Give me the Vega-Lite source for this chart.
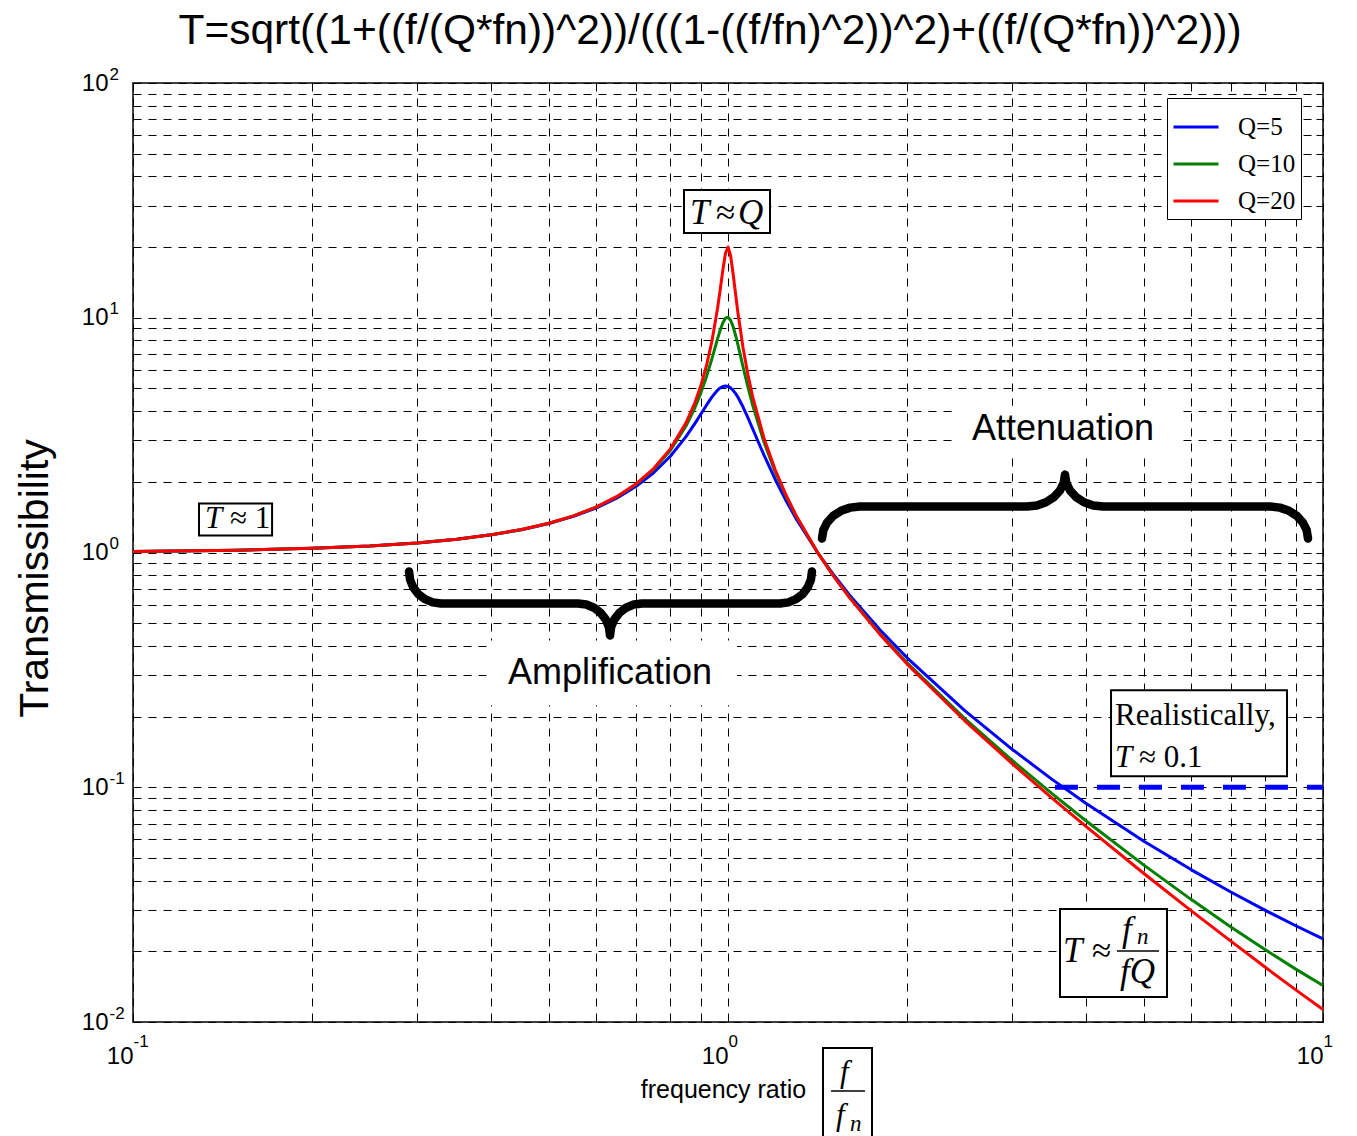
{
  "$schema": "https://vega.github.io/schema/vega-lite/v6.json",
  "width": 1190,
  "height": 939,
  "autosize": "none",
  "padding": {"left": 133, "top": 83, "right": 34, "bottom": 114},
  "background": "white",
  "title": {
    "text": "T=sqrt((1+((f/(Q*fn))^2))/(((1-((f/fn)^2))^2)+((f/(Q*fn))^2)))",
    "fontSize": 42.5, "font": "Liberation Sans", "fontWeight": "normal", "color": "black",
    "anchor": "middle", "frame": "group", "dx": -18, "offset": 13
  },
  "config": {
    "view": {"stroke": "black", "strokeWidth": 1.5},
    "axis": {
      "gridColor": "black", "gridDash": [8, 7], "gridWidth": 1, "gridOpacity": 1,
      "labelFont": "Liberation Sans", "labelColor": "black",
      "titleFont": "Liberation Sans", "titleColor": "black", "titleFontWeight": "normal",
      "domain": false, "ticks": false, "labelOverlap": false, "labelFlush": false, "labelBound": false
    }
  },
  "resolve": {"axis": {"x": "independent", "y": "independent"}},
  "layer": [
    {
      "data": {"values": [
        {"ratio": 0.3935, "ratio2": 1.0354, "T": 0.4222, "T2": 0.2234},
        {"ratio": 2.426, "ratio2": 5.684, "T": 4.222, "T2": 2.587}
      ]},
      "mark": {"type": "rect", "fill": "white", "strokeWidth": 0},
      "encoding": {
        "x": {"field": "ratio", "type": "quantitative", "scale": {"type": "log", "domain": [0.1, 10], "nice": false},
          "axis": {"orient": "top", "values": [0.1,0.2,0.3,0.4,0.5,0.6,0.7,0.8,0.9,1,2,3,4,5,6,7,8,9,10], "grid": false, "labels": false, "ticks": true, "tickSize": -7, "tickColor": "black", "title": null}},
        "x2": {"field": "ratio2"},
        "y": {"field": "T", "type": "quantitative", "scale": {"type": "log", "domain": [0.01, 100], "nice": false},
          "axis": {"orient": "right", "values": [0.01,0.02,0.03,0.04,0.05,0.06,0.07,0.08,0.09,0.1,0.2,0.3,0.4,0.5,0.6,0.7,0.8,0.9,1,2,3,4,5,6,7,8,9,10,20,30,40,50,60,70,80,90,100], "grid": false, "labels": false, "ticks": true, "tickSize": -7, "tickColor": "black", "title": null}},
        "y2": {"field": "T2"}
      }
    },
    {
      "data": {"values": [
        {"brace": "amp", "seq": 1, "ratio": 0.2910, "T": 0.8301},
        {"brace": "amp", "seq": 2, "ratio": 0.2922, "T": 0.7654},
        {"brace": "amp", "seq": 3, "ratio": 0.2958, "T": 0.7097},
        {"brace": "amp", "seq": 4, "ratio": 0.3017, "T": 0.6651},
        {"brace": "amp", "seq": 5, "ratio": 0.3095, "T": 0.6328},
        {"brace": "amp", "seq": 6, "ratio": 0.3189, "T": 0.6132},
        {"brace": "amp", "seq": 7, "ratio": 0.3293, "T": 0.6067},
        {"brace": "amp", "seq": 8, "ratio": 0.5597, "T": 0.6067},
        {"brace": "amp", "seq": 9, "ratio": 0.5779, "T": 0.6003},
        {"brace": "amp", "seq": 10, "ratio": 0.5954, "T": 0.5817},
        {"brace": "amp", "seq": 11, "ratio": 0.6109, "T": 0.5535},
        {"brace": "amp", "seq": 12, "ratio": 0.6230, "T": 0.5187},
        {"brace": "amp", "seq": 13, "ratio": 0.6308, "T": 0.4809},
        {"brace": "amp", "seq": 14, "ratio": 0.6335, "T": 0.4434},
        {"brace": "amp", "seq": 15, "ratio": 0.6361, "T": 0.4809},
        {"brace": "amp", "seq": 16, "ratio": 0.6441, "T": 0.5187},
        {"brace": "amp", "seq": 17, "ratio": 0.6569, "T": 0.5535},
        {"brace": "amp", "seq": 18, "ratio": 0.6739, "T": 0.5817},
        {"brace": "amp", "seq": 19, "ratio": 0.6944, "T": 0.6003},
        {"brace": "amp", "seq": 20, "ratio": 0.7170, "T": 0.6067},
        {"brace": "amp", "seq": 21, "ratio": 1.2230, "T": 0.6067},
        {"brace": "amp", "seq": 22, "ratio": 1.2627, "T": 0.6132},
        {"brace": "amp", "seq": 23, "ratio": 1.3010, "T": 0.6328},
        {"brace": "amp", "seq": 24, "ratio": 1.3348, "T": 0.6651},
        {"brace": "amp", "seq": 25, "ratio": 1.3613, "T": 0.7097},
        {"brace": "amp", "seq": 26, "ratio": 1.3783, "T": 0.7654},
        {"brace": "amp", "seq": 27, "ratio": 1.3840, "T": 0.8301},
        {"brace": "att", "seq": 1, "ratio": 1.4387, "T": 1.1470},
        {"brace": "att", "seq": 2, "ratio": 1.4460, "T": 1.2440},
        {"brace": "att", "seq": 3, "ratio": 1.4674, "T": 1.3417},
        {"brace": "att", "seq": 4, "ratio": 1.5021, "T": 1.4317},
        {"brace": "att", "seq": 5, "ratio": 1.5486, "T": 1.5048},
        {"brace": "att", "seq": 6, "ratio": 1.6045, "T": 1.5528},
        {"brace": "att", "seq": 7, "ratio": 1.6666, "T": 1.5694},
        {"brace": "att", "seq": 8, "ratio": 3.1807, "T": 1.5694},
        {"brace": "att", "seq": 9, "ratio": 3.3040, "T": 1.5863},
        {"brace": "att", "seq": 10, "ratio": 3.4234, "T": 1.6366},
        {"brace": "att", "seq": 11, "ratio": 3.5292, "T": 1.7204},
        {"brace": "att", "seq": 12, "ratio": 3.6127, "T": 1.8358},
        {"brace": "att", "seq": 13, "ratio": 3.6661, "T": 1.9801},
        {"brace": "att", "seq": 14, "ratio": 3.6846, "T": 2.1474},
        {"brace": "att", "seq": 15, "ratio": 3.7032, "T": 1.9801},
        {"brace": "att", "seq": 16, "ratio": 3.7579, "T": 1.8358},
        {"brace": "att", "seq": 17, "ratio": 3.8467, "T": 1.7204},
        {"brace": "att", "seq": 18, "ratio": 3.9657, "T": 1.6366},
        {"brace": "att", "seq": 19, "ratio": 4.1089, "T": 1.5863},
        {"brace": "att", "seq": 20, "ratio": 4.2683, "T": 1.5694},
        {"brace": "att", "seq": 21, "ratio": 8.1461, "T": 1.5694},
        {"brace": "att", "seq": 22, "ratio": 8.4616, "T": 1.5528},
        {"brace": "att", "seq": 23, "ratio": 8.7671, "T": 1.5048},
        {"brace": "att", "seq": 24, "ratio": 9.0380, "T": 1.4317},
        {"brace": "att", "seq": 25, "ratio": 9.2520, "T": 1.3417},
        {"brace": "att", "seq": 26, "ratio": 9.3888, "T": 1.2440},
        {"brace": "att", "seq": 27, "ratio": 9.4360, "T": 1.1470}
      ]},
      "mark": {"type": "line", "color": "black", "strokeWidth": 8.5, "strokeCap": "round", "strokeJoin": "round"},
      "encoding": {
        "x": {"field": "ratio", "type": "quantitative", "scale": {"type": "log", "domain": [0.1, 10], "nice": false},
          "axis": {"orient": "bottom", "values": [0.1,0.2,0.3,0.4,0.5,0.6,0.7,0.8,0.9,1,2,3,4,5,6,7,8,9,10], "grid": false, "labels": false, "ticks": true, "tickSize": -7, "tickColor": "black", "title": null}},
        "y": {"field": "T", "type": "quantitative", "scale": {"type": "log", "domain": [0.01, 100], "nice": false},
          "axis": {"orient": "left", "values": [0.01,0.02,0.03,0.04,0.05,0.06,0.07,0.08,0.09,0.1,0.2,0.3,0.4,0.5,0.6,0.7,0.8,0.9,1,2,3,4,5,6,7,8,9,10,20,30,40,50,60,70,80,90,100], "grid": false, "labels": false, "ticks": true, "tickSize": -7, "tickColor": "black", "title": null}},
        "detail": {"field": "brace"},
        "order": {"field": "seq", "type": "quantitative"}
      }
    },
    {
      "data": {"values": [
        {"Q":"Q=5","ratio":0.1,"T":1.0101},{"Q":"Q=5","ratio":0.15,"T":1.0230},{"Q":"Q=5","ratio":0.2,"T":1.0416},{"Q":"Q=5","ratio":0.25,"T":1.0665},{"Q":"Q=5","ratio":0.3,"T":1.0985},{"Q":"Q=5","ratio":0.35,"T":1.1388},{"Q":"Q=5","ratio":0.4,"T":1.1889},{"Q":"Q=5","ratio":0.45,"T":1.2510},{"Q":"Q=5","ratio":0.5,"T":1.3282},{"Q":"Q=5","ratio":0.55,"T":1.4247},{"Q":"Q=5","ratio":0.6,"T":1.5468},{"Q":"Q=5","ratio":0.65,"T":1.7035},{"Q":"Q=5","ratio":0.7,"T":1.9093},{"Q":"Q=5","ratio":0.75,"T":2.1863},{"Q":"Q=5","ratio":0.8,"T":2.5707},{"Q":"Q=5","ratio":0.85,"T":3.1169},{"Q":"Q=5","ratio":0.88,"T":3.5486},{"Q":"Q=5","ratio":0.9,"T":3.8822},{"Q":"Q=5","ratio":0.92,"T":4.2422},{"Q":"Q=5","ratio":0.94,"T":4.6017},{"Q":"Q=5","ratio":0.96,"T":4.9099},{"Q":"Q=5","ratio":0.97,"T":5.0228},{"Q":"Q=5","ratio":0.98,"T":5.0962},{"Q":"Q=5","ratio":0.99,"T":5.1228},{"Q":"Q=5","ratio":1.0,"T":5.0990},{"Q":"Q=5","ratio":1.01,"T":5.0257},{"Q":"Q=5","ratio":1.02,"T":4.9076},{"Q":"Q=5","ratio":1.03,"T":4.7530},{"Q":"Q=5","ratio":1.04,"T":4.5714},{"Q":"Q=5","ratio":1.06,"T":4.1656},{"Q":"Q=5","ratio":1.08,"T":3.7521},{"Q":"Q=5","ratio":1.1,"T":3.3666},{"Q":"Q=5","ratio":1.15,"T":2.5904},{"Q":"Q=5","ratio":1.2,"T":2.0519},{"Q":"Q=5","ratio":1.25,"T":1.6745},{"Q":"Q=5","ratio":1.3,"T":1.4013},{"Q":"Q=5","ratio":1.4142,"T":1.0},{"Q":"Q=5","ratio":1.5,"T":0.8122},{"Q":"Q=5","ratio":1.6,"T":0.6593},{"Q":"Q=5","ratio":1.8,"T":0.4685},{"Q":"Q=5","ratio":2,"T":0.3559},{"Q":"Q=5","ratio":2.5,"T":0.2120},{"Q":"Q=5","ratio":3,"T":0.1454},{"Q":"Q=5","ratio":3.5,"T":0.1083},{"Q":"Q=5","ratio":4,"T":0.0853},{"Q":"Q=5","ratio":5,"T":0.0589},{"Q":"Q=5","ratio":6,"T":0.0446},{"Q":"Q=5","ratio":7,"T":0.0358},{"Q":"Q=5","ratio":8,"T":0.0299},{"Q":"Q=5","ratio":9,"T":0.0257},{"Q":"Q=5","ratio":10,"T":0.0226},
        {"Q":"Q=10","ratio":0.1,"T":1.0101},{"Q":"Q=10","ratio":0.15,"T":1.0230},{"Q":"Q=10","ratio":0.2,"T":1.0417},{"Q":"Q=10","ratio":0.25,"T":1.0666},{"Q":"Q=10","ratio":0.3,"T":1.0988},{"Q":"Q=10","ratio":0.35,"T":1.1394},{"Q":"Q=10","ratio":0.4,"T":1.1901},{"Q":"Q=10","ratio":0.45,"T":1.2532},{"Q":"Q=10","ratio":0.5,"T":1.3320},{"Q":"Q=10","ratio":0.55,"T":1.4314},{"Q":"Q=10","ratio":0.6,"T":1.5585},{"Q":"Q=10","ratio":0.65,"T":1.7244},{"Q":"Q=10","ratio":0.7,"T":1.9473},{"Q":"Q=10","ratio":0.75,"T":2.2592},{"Q":"Q=10","ratio":0.8,"T":2.7203},{"Q":"Q=10","ratio":0.85,"T":3.4580},{"Q":"Q=10","ratio":0.88,"T":4.1456},{"Q":"Q=10","ratio":0.9,"T":4.7757},{"Q":"Q=10","ratio":0.92,"T":5.6088},{"Q":"Q=10","ratio":0.94,"T":6.7132},{"Q":"Q=10","ratio":0.96,"T":8.1051},{"Q":"Q=10","ratio":0.97,"T":8.8452},{"Q":"Q=10","ratio":0.98,"T":9.5062},{"Q":"Q=10","ratio":0.99,"T":9.9513},{"Q":"Q=10","ratio":1.0,"T":10.0499},{"Q":"Q=10","ratio":1.01,"T":9.7600},{"Q":"Q=10","ratio":1.02,"T":9.1623},{"Q":"Q=10","ratio":1.03,"T":8.4014},{"Q":"Q=10","ratio":1.04,"T":7.6056},{"Q":"Q=10","ratio":1.06,"T":6.1759},{"Q":"Q=10","ratio":1.08,"T":5.0703},{"Q":"Q=10","ratio":1.1,"T":4.2437},{"Q":"Q=10","ratio":1.15,"T":2.9398},{"Q":"Q=10","ratio":1.2,"T":2.2084},{"Q":"Q=10","ratio":1.25,"T":1.7489},{"Q":"Q=10","ratio":1.3,"T":1.4362},{"Q":"Q=10","ratio":1.4142,"T":1.0},{"Q":"Q=10","ratio":1.5,"T":0.8032},{"Q":"Q=10","ratio":1.6,"T":0.6458},{"Q":"Q=10","ratio":1.8,"T":0.4521},{"Q":"Q=10","ratio":2,"T":0.3392},{"Q":"Q=10","ratio":2.5,"T":0.1961},{"Q":"Q=10","ratio":3,"T":0.1304},{"Q":"Q=10","ratio":3.5,"T":0.0941},{"Q":"Q=10","ratio":4,"T":0.0718},{"Q":"Q=10","ratio":5,"T":0.0466},{"Q":"Q=10","ratio":6,"T":0.0333},{"Q":"Q=10","ratio":7,"T":0.0254},{"Q":"Q=10","ratio":8,"T":0.0203},{"Q":"Q=10","ratio":9,"T":0.0168},{"Q":"Q=10","ratio":10,"T":0.0143},
        {"Q":"Q=20","ratio":0.1,"T":1.0101},{"Q":"Q=20","ratio":0.15,"T":1.0230},{"Q":"Q=20","ratio":0.2,"T":1.0417},{"Q":"Q=20","ratio":0.25,"T":1.0667},{"Q":"Q=20","ratio":0.3,"T":1.0989},{"Q":"Q=20","ratio":0.35,"T":1.1396},{"Q":"Q=20","ratio":0.4,"T":1.1904},{"Q":"Q=20","ratio":0.45,"T":1.2537},{"Q":"Q=20","ratio":0.5,"T":1.3330},{"Q":"Q=20","ratio":0.55,"T":1.4331},{"Q":"Q=20","ratio":0.6,"T":1.5615},{"Q":"Q=20","ratio":0.65,"T":1.7298},{"Q":"Q=20","ratio":0.7,"T":1.9574},{"Q":"Q=20","ratio":0.75,"T":2.2789},{"Q":"Q=20","ratio":0.8,"T":2.7630},{"Q":"Q=20","ratio":0.85,"T":3.5653},{"Q":"Q=20","ratio":0.88,"T":4.3549},{"Q":"Q=20","ratio":0.9,"T":5.1267},{"Q":"Q=20","ratio":0.92,"T":6.2433},{"Q":"Q=20","ratio":0.94,"T":7.9749},{"Q":"Q=20","ratio":0.96,"T":10.8907},{"Q":"Q=20","ratio":0.97,"T":13.0952},{"Q":"Q=20","ratio":0.98,"T":15.8917},{"Q":"Q=20","ratio":0.99,"T":18.7670},{"Q":"Q=20","ratio":1.0,"T":20.0250},{"Q":"Q=20","ratio":1.01,"T":18.4216},{"Q":"Q=20","ratio":1.02,"T":15.3899},{"Q":"Q=20","ratio":1.03,"T":12.5548},{"Q":"Q=20","ratio":1.04,"T":10.3488},{"Q":"Q=20","ratio":1.06,"T":7.4463},{"Q":"Q=20","ratio":1.08,"T":5.7245},{"Q":"Q=20","ratio":1.1,"T":4.6135},{"Q":"Q=20","ratio":1.15,"T":3.0576},{"Q":"Q=20","ratio":1.2,"T":2.2559},{"Q":"Q=20","ratio":1.25,"T":1.7703},{"Q":"Q=20","ratio":1.3,"T":1.4459},{"Q":"Q=20","ratio":1.4142,"T":1.0},{"Q":"Q=20","ratio":1.5,"T":0.8008},{"Q":"Q=20","ratio":1.6,"T":0.6422},{"Q":"Q=20","ratio":1.8,"T":0.4479},{"Q":"Q=20","ratio":2,"T":0.3348},{"Q":"Q=20","ratio":2.5,"T":0.1919},{"Q":"Q=20","ratio":3,"T":0.1264},{"Q":"Q=20","ratio":3.5,"T":0.0902},{"Q":"Q=20","ratio":4,"T":0.0680},{"Q":"Q=20","ratio":5,"T":0.0429},{"Q":"Q=20","ratio":6,"T":0.0298},{"Q":"Q=20","ratio":7,"T":0.0221},{"Q":"Q=20","ratio":8,"T":0.0171},{"Q":"Q=20","ratio":9,"T":0.0137},{"Q":"Q=20","ratio":10,"T":0.0113}
      ]},
      "mark": {"type": "line", "strokeWidth": 3, "strokeJoin": "round"},
      "encoding": {
        "x": {"field": "ratio", "type": "quantitative", "scale": {"type": "log", "domain": [0.1, 10], "nice": false},
          "axis": {"orient": "bottom", "values": [0.1,0.2,0.3,0.4,0.5,0.6,0.7,0.8,0.9,1,2,3,4,5,6,7,8,9,10], "grid": true,
            "labelExpr": "abs(log(datum.value)/LN10 - round(log(datum.value)/LN10)) < 0.001 ? '10' : ''",
            "labelFontSize": 24, "labelAlign": "right", "labelDx": 9, "labelBaseline": "top", "labelPadding": 22,
            "title": "frequency ratio", "titleFontSize": 25, "titleX": 590, "titleY": 75, "titleAlign": "center", "titleBaseline": "alphabetic"}},
        "y": {"field": "T", "type": "quantitative", "scale": {"type": "log", "domain": [0.01, 100], "nice": false},
          "axis": {"orient": "left", "values": [0.01,0.02,0.03,0.04,0.05,0.06,0.07,0.08,0.09,0.1,0.2,0.3,0.4,0.5,0.6,0.7,0.8,0.9,1,2,3,4,5,6,7,8,9,10,20,30,40,50,60,70,80,90,100], "grid": true,
            "labelExpr": "abs(log(datum.value)/LN10 - round(log(datum.value)/LN10)) < 0.001 ? '10' : ''",
            "labelFontSize": 24, "labelAlign": "right", "labelBaseline": "middle", "labelPadding": 25,
            "title": "Transmissibility", "titleFontSize": 41, "titleX": -86, "titleY": 495, "titleAngle": -90, "titleAlign": "center", "titleBaseline": "alphabetic"}},
        "color": {"field": "Q", "type": "nominal",
          "scale": {"domain": ["Q=5", "Q=10", "Q=20"], "range": ["#0000ff", "#008000", "#ff0000"]},
          "legend": {"title": null, "orient": "none", "legendX": 1034, "legendY": 15, "fillColor": "white", "strokeColor": "black",
            "padding": 5, "symbolType": "stroke", "symbolSize": 2025, "symbolStrokeWidth": 3,
            "labelFont": "Liberation Serif", "labelFontSize": 25, "labelColor": "black", "labelOffset": 18, "rowPadding": -18}}
      }
    },
    {
      "data": {"values": [{"ratio": 3.544, "T": 0.1}, {"ratio": 10, "T": 0.1}]},
      "mark": {"type": "line", "color": "#0000ff", "strokeWidth": 5, "strokeDash": [23, 19]},
      "encoding": {
        "x": {"field": "ratio", "type": "quantitative", "scale": {"type": "log", "domain": [0.1, 10], "nice": false},
          "axis": {"orient": "bottom", "values": [0.1, 1, 10], "grid": false,
            "labelExpr": "'' + round(log(datum.value)/LN10)",
            "labelFontSize": 17, "labelAlign": "left", "labelDx": 9, "labelBaseline": "top", "labelPadding": 11, "title": null}},
        "y": {"field": "T", "type": "quantitative", "scale": {"type": "log", "domain": [0.01, 100], "nice": false},
          "axis": {"orient": "left", "values": [0.01, 0.1, 1, 10, 100], "grid": false,
            "labelExpr": "'' + round(log(datum.value)/LN10)",
            "labelFontSize": 17, "labelAlign": "left", "labelBaseline": "bottom", "labelPadding": 24, "labelDy": -4, "title": null}}
      }
    },
    {
      "data": {"values": [
        {"ratio": 0.1291, "ratio2": 0.1713, "T": 1.616, "T2": 1.181},
        {"ratio": 0.8434, "ratio2": 1.1765, "T": 35.05, "T2": 22.99},
        {"ratio": 4.403, "ratio2": 8.700, "T": 0.2587, "T2": 0.1114},
        {"ratio": 3.614, "ratio2": 5.468, "T": 0.03027, "T2": 0.01278},
        {"ratio": 1.4443, "ratio2": 1.7459, "T": 0.0077505, "T2": 0.0031459}
      ]},
      "mark": {"type": "rect", "fill": "white", "stroke": "black", "strokeWidth": 2},
      "encoding": {
        "x": {"field": "ratio", "type": "quantitative", "scale": {"type": "log", "domain": [0.1, 10], "nice": false}, "axis": null},
        "x2": {"field": "ratio2"},
        "y": {"field": "T", "type": "quantitative", "scale": {"type": "log", "domain": [0.01, 100], "nice": false}, "axis": null},
        "y2": {"field": "T2"}
      }
    },
    {
      "data": {"values": [
        {"ratio": 4.5062, "ratio2": 5.3014, "T": 0.020048},
        {"ratio": 1.4899, "ratio2": 1.6992, "T": 0.0050853}
      ]},
      "mark": {"type": "rule", "color": "black", "strokeWidth": 1.5},
      "encoding": {
        "x": {"field": "ratio", "type": "quantitative", "scale": {"type": "log", "domain": [0.1, 10], "nice": false}, "axis": null},
        "x2": {"field": "ratio2"},
        "y": {"field": "T", "type": "quantitative", "scale": {"type": "log", "domain": [0.01, 100], "nice": false}, "axis": null}
      }
    },
    {
      "data": {"values": [
        {"label": "Amplification", "ratio": 0.6335, "T": 0.3055},
        {"label": "Attenuation", "ratio": 3.656, "T": 3.370}
      ]},
      "mark": {"type": "text", "font": "Liberation Sans", "fontSize": 36, "align": "center", "baseline": "middle", "color": "black"},
      "encoding": {
        "x": {"field": "ratio", "type": "quantitative", "scale": {"type": "log", "domain": [0.1, 10], "nice": false}, "axis": null},
        "y": {"field": "T", "type": "quantitative", "scale": {"type": "log", "domain": [0.01, 100], "nice": false}, "axis": null},
        "text": {"field": "label"}
      }
    },
    {
      "data": {"values": [
        {"label": "≈ 1", "ratio": 0.14555, "T": 1.2777},
        {"label": "Realistically,", "ratio": 4.4716, "T": 0.18361},
        {"label": "≈ 0.1", "ratio": 4.9064, "T": 0.12165}
      ]},
      "mark": {"type": "text", "font": "Liberation Serif", "fontSize": 31, "align": "left", "baseline": "alphabetic", "color": "black"},
      "encoding": {
        "x": {"field": "ratio", "type": "quantitative", "scale": {"type": "log", "domain": [0.1, 10], "nice": false}, "axis": null},
        "y": {"field": "T", "type": "quantitative", "scale": {"type": "log", "domain": [0.01, 100], "nice": false}, "axis": null},
        "text": {"field": "label"}
      }
    },
    {
      "data": {"values": [
        {"label": "≈", "ratio": 0.95465, "T": 25.119},
        {"label": "≈", "ratio": 4.0920, "T": 0.018005}
      ]},
      "mark": {"type": "text", "font": "Liberation Serif", "fontSize": 35, "align": "left", "baseline": "alphabetic", "color": "black"},
      "encoding": {
        "x": {"field": "ratio", "type": "quantitative", "scale": {"type": "log", "domain": [0.1, 10], "nice": false}, "axis": null},
        "y": {"field": "T", "type": "quantitative", "scale": {"type": "log", "domain": [0.01, 100], "nice": false}, "axis": null},
        "text": {"field": "label"}
      }
    },
    {
      "data": {"values": [
        {"label": "T", "ratio": 0.13214, "T": 1.2777},
        {"label": "T", "ratio": 4.4716, "T": 0.12165},
        {"label": "f", "ratio": 1.5427, "T": 0.0055547},
        {"label": "f", "ratio": 1.5190, "T": 0.0036454}
      ]},
      "mark": {"type": "text", "font": "Liberation Serif", "fontStyle": "italic", "fontSize": 31, "align": "left", "baseline": "alphabetic", "color": "black"},
      "encoding": {
        "x": {"field": "ratio", "type": "quantitative", "scale": {"type": "log", "domain": [0.1, 10], "nice": false}, "axis": null},
        "y": {"field": "T", "type": "quantitative", "scale": {"type": "log", "domain": [0.01, 100], "nice": false}, "axis": null},
        "text": {"field": "label"}
      }
    },
    {
      "data": {"values": [
        {"label": "T", "ratio": 0.86339, "T": 25.119},
        {"label": "Q", "ratio": 1.0394, "T": 25.119},
        {"label": "T", "ratio": 3.6560, "T": 0.018005},
        {"label": "f", "ratio": 4.5947, "T": 0.022115},
        {"label": "fQ", "ratio": 4.5593, "T": 0.014655}
      ]},
      "mark": {"type": "text", "font": "Liberation Serif", "fontStyle": "italic", "fontSize": 35, "align": "left", "baseline": "alphabetic", "color": "black"},
      "encoding": {
        "x": {"field": "ratio", "type": "quantitative", "scale": {"type": "log", "domain": [0.1, 10], "nice": false}, "axis": null},
        "y": {"field": "T", "type": "quantitative", "scale": {"type": "log", "domain": [0.01, 100], "nice": false}, "axis": null},
        "text": {"field": "label"}
      }
    },
    {
      "data": {"values": [
        {"label": "n", "ratio": 4.8684, "T": 0.021474},
        {"label": "n", "ratio": 1.6036, "T": 0.0034369}
      ]},
      "mark": {"type": "text", "font": "Liberation Serif", "fontStyle": "italic", "fontSize": 23, "align": "left", "baseline": "alphabetic", "color": "black"},
      "encoding": {
        "x": {"field": "ratio", "type": "quantitative", "scale": {"type": "log", "domain": [0.1, 10], "nice": false}, "axis": null},
        "y": {"field": "T", "type": "quantitative", "scale": {"type": "log", "domain": [0.01, 100], "nice": false}, "axis": null},
        "text": {"field": "label"}
      }
    }
  ]
}
